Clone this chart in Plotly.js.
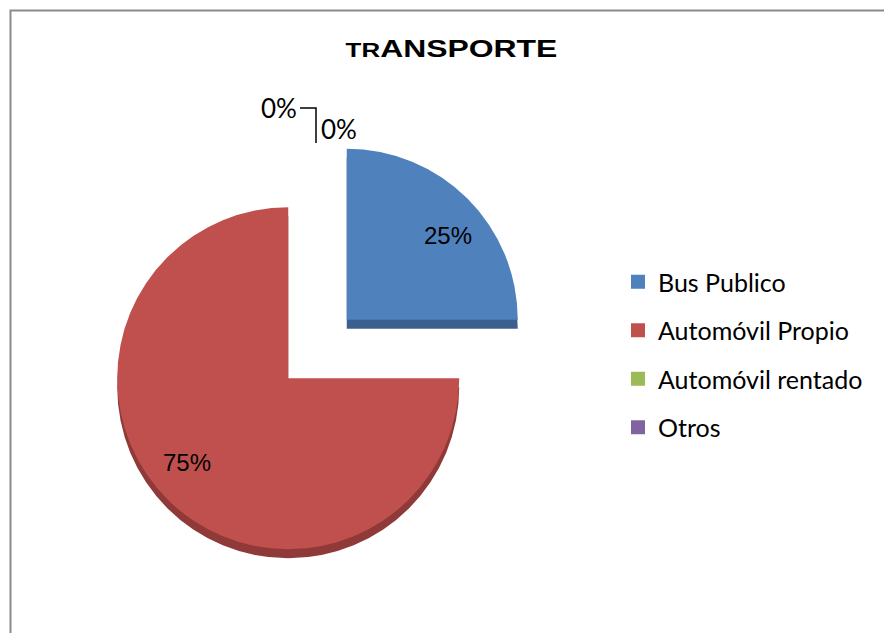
<!DOCTYPE html>
<html>
<head>
<meta charset="utf-8">
<script src="https://cdn.plot.ly/plotly-3.0.1.min.js"></script>
<style>html,body{margin:0;padding:0;background:#fff}#chart{width:884px;height:633px}
.gtitle{transform-box:fill-box;transform-origin:center;transform:scaleX(1.33)}</style>
</head>
<body>
<div id="chart"></div>
<script>
const categories = ['Bus Publico', 'Automóvil Propio', 'Automóvil rentado', 'Otros'];
const values = [25, 75, 0, 0];
const colors = ['#4F81BD', '#C0504D', '#9BBB59', '#8064A2'];
const sideColors = ['#3B6090', '#8F3A38', '#738C41', '#5F4A7A'];
const pulls = [0.242, 0.242, 0, 0];
const chartTitle = "<span style='font-size:19.5px'>TR</span>ANSPORTE";

const W = 884, H = 633;
const cx = 317.5, cy = 349, R = 171, depth = 9;
const half = R * (1 + Math.max(...pulls));
const domX = [(cx - half) / W, (cx + half) / W];
const domY = [1 - (cy + half) / H, 1 - (cy - half) / H];
const domYside = [1 - (cy + half + depth) / H, 1 - (cy - half + depth) / H];
const px = x => x / W, py = y => 1 - y / H;

const side = {
  type: 'pie', labels: categories, values: values, sort: false, direction: 'clockwise', rotation: 0,
  pull: pulls, marker: {colors: sideColors}, textinfo: 'none', hoverinfo: 'skip',
  showlegend: false, domain: {x: domX, y: domYside}
};
const pie = {
  type: 'pie', labels: categories, values: values, sort: false, direction: 'clockwise', rotation: 0,
  pull: pulls, marker: {colors: colors}, textinfo: 'none',
  showlegend: false, domain: {x: domX, y: domY}
};
const legendTraces = categories.map((c, i) => ({
  type: 'scatter', x: [null], y: [null], mode: 'markers', name: c,
  marker: {symbol: 'square', size: 14, color: colors[i]},
  legendgroup: 'g' + i, showlegend: true, hoverinfo: 'skip'
}));

// percent labels computed from the data
const total = values.reduce((a, b) => a + b, 0);
const annotations = [];
let cum = 0;
const zeroIdx = [];
const labelFont = {family: 'Liberation Sans, Arial', size: 24, color: '#000'};
const smallFont = {family: 'Lato, Carlito, sans-serif', size: 26, color: '#000'};
values.forEach((v, i) => {
  const a0 = cum / total * 2 * Math.PI;
  cum += v;
  const a1 = cum / total * 2 * Math.PI;
  const mid = (a0 + a1) / 2;
  const pct = Math.round(v / total * 100) + '%';
  if (v > 0) {
    const sx = cx + pulls[i] * R * Math.sin(mid), sy = cy - pulls[i] * R * Math.cos(mid);
    const k = 0.77, ang = mid + 5 * Math.PI / 180;
    annotations.push({x: px(sx + k * R * Math.sin(ang)), y: py(sy - k * R * Math.cos(ang)),
      xref: 'paper', yref: 'paper', xanchor: 'center', yanchor: 'middle', text: pct, showarrow: false,
      font: labelFont});
  } else {
    zeroIdx.push({i, pct, mid});
  }
});
// zero-value slices: labels outside the top of the pie with a leader line
const topX = cx + R * Math.sin(zeroIdx.length ? zeroIdx[0].mid : 0) - 1.5;
const topY = cy - R;
const shapes = [{type: 'rect', xref: 'paper', yref: 'paper', x0: px(10.5), x1: px(900), y0: py(653), y1: py(10.5),
  line: {color: '#8a8a8a', width: 2}, layer: 'below'}];
if (zeroIdx.length) {
  annotations.push({x: px(topX - 17), y: py(topY - 70), xref: 'paper', yref: 'paper', xanchor: 'right', yanchor: 'middle',
    text: zeroIdx[0].pct, showarrow: false, font: smallFont});
  if (zeroIdx[1]) annotations.push({x: px(topX + 3), y: py(topY - 49), xref: 'paper', yref: 'paper', xanchor: 'left', yanchor: 'middle',
    text: zeroIdx[1].pct, showarrow: false, font: smallFont});
  shapes.push({type: 'path', xref: 'paper', yref: 'paper',
    path: `M ${px(topX - 16)} ${py(topY - 70)} L ${px(topX)} ${py(topY - 70)} L ${px(topX)} ${py(topY - 35)}`,
    line: {color: '#000', width: 1.5}});
}

const layout = {
  width: W, height: H, margin: {l: 0, r: 0, t: 0, b: 0},
  paper_bgcolor: '#fff', plot_bgcolor: 'rgba(0,0,0,0)',
  title: {text: chartTitle, x: 451.5 / W, xanchor: 'center', y: 1 - 49 / H, yanchor: 'middle',
          font: {family: 'Liberation Sans, Arial', size: 24, color: '#000', weight: 'bold'}},
  xaxis: {visible: false}, yaxis: {visible: false},
  legend: {x: 618 / W, xanchor: 'left', y: 1 - 259 / H, yanchor: 'top', tracegroupgap: 13,
           font: {family: 'Lato, Carlito, sans-serif', size: 25, color: '#000'}, bgcolor: 'rgba(0,0,0,0)'},
  annotations: annotations,
  shapes: shapes
};
Plotly.newPlot('chart', [side, pie].concat(legendTraces), layout, {staticPlot: true});
</script>
</body>
</html>
